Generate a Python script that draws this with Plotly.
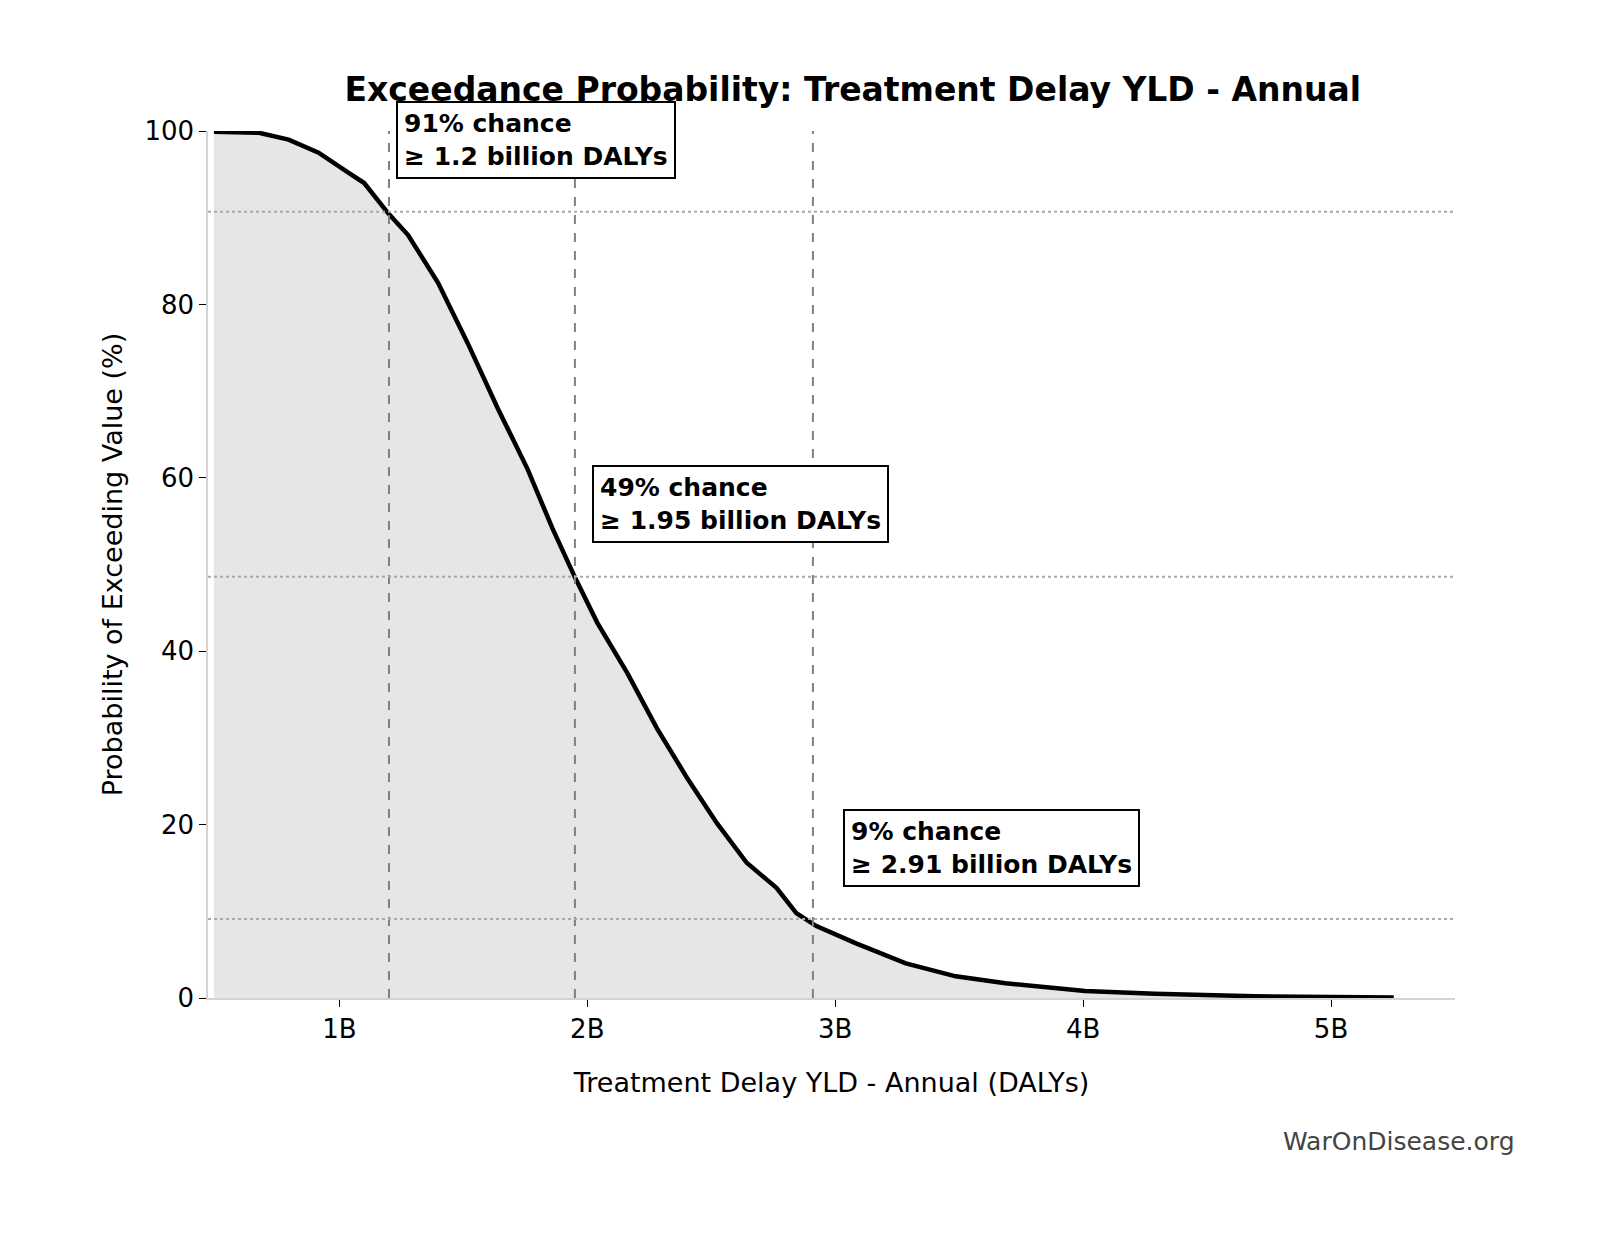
import plotly.graph_objects as go

# exceedance curve (billions of DALYs, % exceeding)
x_vals = [0.494, 0.675, 0.795, 0.916, 1.036, 1.10, 1.197, 1.277, 1.398, 1.518, 1.639,
          1.759, 1.859, 1.952, 2.040, 2.161, 2.281, 2.402, 2.522, 2.643, 2.763,
          2.843, 2.924, 3.084, 3.285, 3.486, 3.687, 3.888, 4.008, 4.289, 4.691, 5.253]
y_vals = [99.9, 99.8, 99.0, 97.5, 95.2, 94.0, 90.5, 88.0, 82.5, 75.5, 68.0,
          61.0, 54.2, 48.4, 43.3, 37.5, 31.1, 25.4, 20.2, 15.6, 12.7,
          9.8, 8.3, 6.3, 4.0, 2.5, 1.7, 1.2, 0.8, 0.5, 0.2, 0.05]

mark_x = [1.2, 1.95, 2.91]
mark_p = [90.7, 48.6, 9.1]
labels = ["91% chance<br>≥ 1.2 billion DALYs",
          "49% chance<br>≥ 1.95 billion DALYs",
          "9% chance<br>≥ 2.91 billion DALYs"]
label_pos = [(1.23, 103.5), (2.02, 61.5), (3.03, 21.8)]

tick_vals = [1, 2, 3, 4, 5]
tick_text = ["1B", "2B", "3B", "4B", "5B"]

fig = go.Figure()
fig.add_trace(go.Scatter(x=x_vals, y=y_vals, mode="lines", fill="tozeroy",
                         fillcolor="rgba(200,200,200,0.45)",
                         line=dict(color="black", width=4.5)))

for xv, pv in zip(mark_x, mark_p):
    fig.add_shape(type="line", x0=xv, x1=xv, y0=0, y1=100,
                  line=dict(color="gray", width=2, dash="dash"))
    fig.add_shape(type="line", xref="paper", x0=0, x1=1, y0=pv, y1=pv,
                  line=dict(color="darkgray", width=2, dash="dot"))

# y in paper units (plot spans 0..100 %) so the top label is not hidden
for txt, (ax, ay) in zip(labels, label_pos):
    fig.add_annotation(x=ax, y=ay / 100, yref="paper", text="<b>" + txt + "</b>",
                       showarrow=False, xanchor="left", yanchor="top", align="left",
                       font=dict(size=25, color="black"),
                       bgcolor="white", bordercolor="black", borderwidth=2,
                       borderpad=6)

fig.add_annotation(xref="paper", yref="paper", x=1.05, y=-0.165,
                   text="WarOnDisease.org", showarrow=False,
                   xanchor="right", yanchor="middle",
                   font=dict(size=25, color="#444444"))

fig.update_layout(
    width=1603, height=1233,
    paper_bgcolor="white", plot_bgcolor="white",
    font=dict(family="DejaVu Sans", size=26, color="black"),
    title=dict(text="<b>Exceedance Probability: Treatment Delay YLD - Annual</b>",
               x=0.527, xanchor="center", y=0.943, font=dict(size=33)),
    margin=dict(l=200, r=156, t=123, b=243),
    showlegend=False,
)
fig.update_xaxes(range=[0.47, 5.5], tickvals=tick_vals, ticktext=tick_text,
                 showgrid=False, zeroline=False, showline=True,
                 linecolor="lightgray", linewidth=1.5, ticks="outside",
                 ticklen=7, tickcolor="black",
                 title=dict(text="Treatment Delay YLD - Annual (DALYs)", standoff=30,
                            font=dict(size=27)))
fig.update_yaxes(range=[0, 100], tickvals=[0, 20, 40, 60, 80, 100],
                 showgrid=False, zeroline=False, showline=True,
                 linecolor="lightgray", linewidth=1.5, ticks="outside",
                 ticklen=7, tickcolor="black",
                 title=dict(text="Probability of Exceeding Value (%)", standoff=14,
                            font=dict(size=27)))

fig.write_html("out.html")
